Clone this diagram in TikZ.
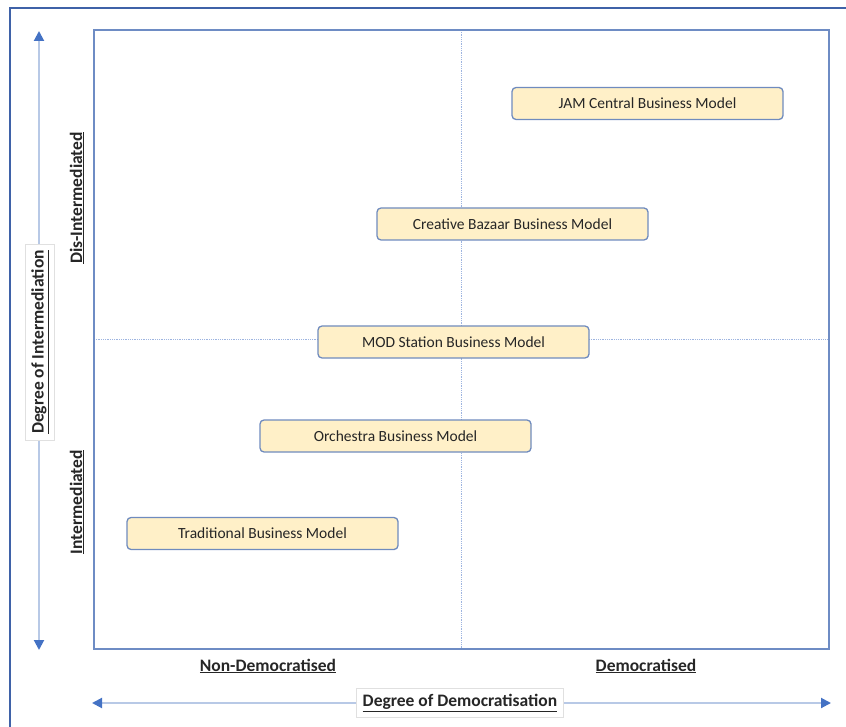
\documentclass[tikz,border=0pt]{standalone}
\usepackage{fontspec}
\setmainfont{Carlito}
\usetikzlibrary{arrows.meta}
\definecolor{framecol}{HTML}{3F62A8}
\definecolor{plotcol}{HTML}{6E8CC4}
\definecolor{gridcol}{HTML}{9DB4E0}
\definecolor{shaftcol}{HTML}{B8C9E6}
\definecolor{tipcol}{HTML}{4472C4}
\definecolor{boxfill}{HTML}{FFF0C8}
\definecolor{boxdraw}{HTML}{6F8BBE}
\tikzset{
  model/.style={draw=boxdraw, fill=boxfill, line width=1.3pt, rounded corners=4pt,
    minimum width=271pt, minimum height=32pt, inner sep=0pt,
    font=\fontsize{15.5}{18}\selectfont, text=black!85},
  axislabel/.style={font=\fontsize{17.5}{20}\selectfont\bfseries, text=black!85},
  axistitle/.style={axislabel, fill=white, draw=black!12, line width=0.6pt, inner sep=6pt},
  axisarrow/.style={draw=shaftcol, line width=2pt,
    {Triangle[length=10pt,width=10pt,color=tipcol]}-{Triangle[length=10pt,width=10pt,color=tipcol]}},
  midline/.style={draw=gridcol, line width=0.8pt, densely dotted},
}
\begin{document}
\begin{tikzpicture}[x=1pt,y=-1pt]
\useasboundingbox (0,0) rectangle (846,727);
% outer frame
\draw[framecol, line width=1.8pt] (10,727) -- (10,8) -- (846,8);
% plot area
\coordinate (pl) at (94,30);
\coordinate (pr) at (829,649);
\draw[midline] (461,30) -- (461,649);
\draw[midline] (94,339) -- (829,339);
\draw[plotcol, line width=1.6pt] (pl) rectangle (pr);
% axes
\coordinate (vt) at (39,31);
\coordinate (vb) at (39,650);
\coordinate (hl) at (92,703);
\coordinate (hr) at (831,703);
\draw[axisarrow] (vb) -- (vt);
\draw[axisarrow] (hl) -- (hr);
\node[axistitle, rotate=90] (ytitle) at (40,342) {\underline{Degree of Intermediation}};
\node[axistitle] (xtitle) at (460,703) {\underline{Degree of Democratisation}};
% axis end labels
\node[axislabel, rotate=90] (dis) at (77,198) {\underline{Dis-Intermediated}};
\node[axislabel, rotate=90] (inter) at (77,502) {\underline{Intermediated}};
\node[axislabel] (nondem) at (268,666) {\underline{Non-Democratised}};
\node[axislabel] (dem) at (646,666) {\underline{Democratised}};
% business models
\node[model] (jam) at (647.5,103.5) {JAM Central Business Model};
\node[model] (bazaar) at (512.5,224) {Creative Bazaar Business Model};
\node[model] (mod) at (453.5,342) {MOD Station Business Model};
\node[model] (orch) at (395.5,436) {Orchestra Business Model};
\node[model] (trad) at (262.5,533.5) {Traditional Business Model};
\end{tikzpicture}
\end{document}
